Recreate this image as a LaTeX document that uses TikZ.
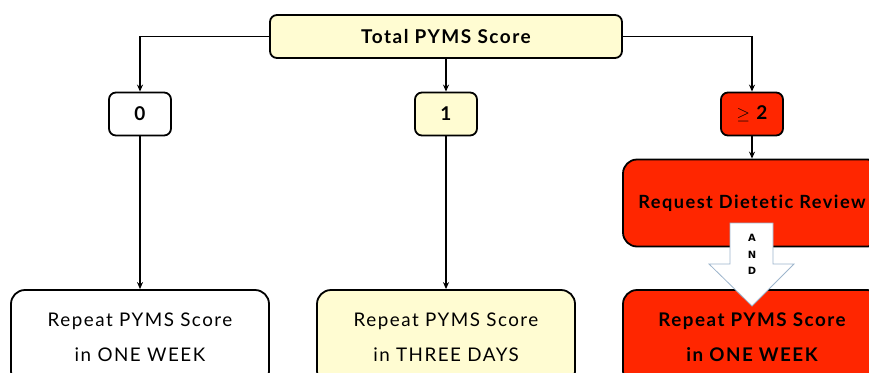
\documentclass[tikz,border=0pt]{standalone}
\usepackage{fontspec}
\setmainfont{Lato}
\newfontfamily\boxfont[LetterSpace=8,Ligatures=NoCommon]{Lato}
\newfontfamily\andfont{DejaVu Sans}
\usetikzlibrary{arrows.meta}
\definecolor{paleyel}{HTML}{FFFCD2}
\definecolor{hotred}{HTML}{FF2600}
\definecolor{andedge}{HTML}{9DB5CC}
\begin{document}
\begin{tikzpicture}[x=1pt,y=-1pt,
  box/.style={draw=black, line width=1.8pt, rounded corners=7pt, inner sep=0pt, align=center},
  small/.style={box, minimum width=62pt, minimum height=43pt, font=\boxfont\bfseries\fontsize{19}{22}\selectfont},
  big/.style={box, minimum width=258pt, minimum height=95pt, rounded corners=14pt, font=\boxfont\fontsize{18.8}{35}\selectfont},
  conn/.style={draw=black, line width=1.6pt, -{Stealth[length=7pt,width=6pt]}}]
\clip (0,0) rectangle (869,372);
\useasboundingbox (0,0) rectangle (869,372);
\node[box, fill=paleyel, minimum width=352pt, minimum height=43pt, font=\boxfont\bfseries\fontsize{19}{22}\selectfont] (top) at (446,36.5) {Total PYMS Score};
\node[small, fill=white] (n0) at (140,114) {0};
\node[small, fill=paleyel] (n1) at (446,114) {1};
\node[small, fill=hotred] (n2) at (752,114) {$\geq$ 2};
\node[big, fill=hotred, minimum height=87pt, font=\boxfont\bfseries\fontsize{18.2}{22}\selectfont] (req) at (752,203) {Request Dietetic Review};
\node[big, fill=white] (b0) at (140,337.5) {Repeat PYMS Score\\in ONE WEEK};
\node[big, fill=paleyel] (b1) at (446,337.5) {Repeat PYMS Score\\in THREE DAYS};
\node[big, fill=hotred, font=\boxfont\bfseries\fontsize{18.8}{35}\selectfont] (b2) at (752,337.5) {Repeat PYMS Score\\in ONE WEEK};
\draw[conn] (top.west) -| (n0.north);
\draw[conn] (top.east) -| (n2.north);
\draw[conn] (top.south) -- (n1.north);
\draw[conn] (n0.south) -- (b0.north);
\draw[conn] (n1.south) -- (b1.north);
\draw[conn] (n2.south) -- (req.north);
% AND block arrow
\draw[draw=andedge, fill=white, line width=0.8pt]
  (730,223) -- (773,223) -- (773,264) -- (794,264) -- (752,306) -- (709,264) -- (730,264) -- cycle;
\node[font=\andfont\bfseries\fontsize{10}{12}\selectfont] (la) at (752,238) {A};
\node[font=\andfont\bfseries\fontsize{10}{12}\selectfont] (ln) at (752,255) {N};
\node[font=\andfont\bfseries\fontsize{10}{12}\selectfont] (ld) at (752,271) {D};
\end{tikzpicture}
\end{document}
